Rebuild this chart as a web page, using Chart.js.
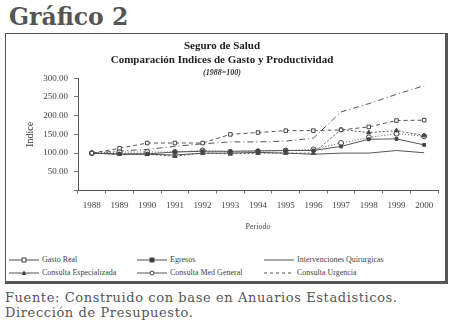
<!DOCTYPE html>
<html>
<head>
<meta charset="utf-8">
<script src="https://cdn.jsdelivr.net/npm/chart.js@4/dist/chart.umd.min.js"></script>
<style>
  body { margin: 0; width: 453px; height: 325px; background: #fff; position: relative; overflow: hidden; }
  #heading { position: absolute; left: 9px; top: 3px; font: bold 23.5px "DejaVu Serif", serif; color: #555; }
  #frame { position: absolute; left: 5px; top: 33px; width: 439px; height: 247px;
           border: 1px solid #555; border-right: 3px solid #555; border-bottom: 3px solid #555; }
  #chart { position: absolute; left: 0; top: 0; }
  #legend { position: absolute; left: 3px; top: 219px; display: grid;
            grid-template-columns: 128px 127px 180px; grid-auto-rows: 13px;
            font: 8px "Liberation Serif", serif; color: #444; }
  #legend div { display: flex; align-items: center; white-space: nowrap; }
  #legend svg { margin-right: 3px; }
  #source { position: absolute; left: 5px; top: 290px; font: 13px "DejaVu Serif", serif; letter-spacing: 0.6px;
            color: #555; line-height: 15px; }
</style>
</head>
<body>
<div id="heading">Gráfico 2</div>
<div id="frame">
  <canvas id="chart" width="439" height="200"></canvas>
  <div id="legend"></div>
</div>
<div id="source">Fuente: Construido con base en Anuarios Estadisticos.<br>Dirección de Presupuesto.</div>

<script>
// data (index 1988 = 100)
var years = ['1988','1989','1990','1991','1992','1993','1994','1995','1996','1997','1998','1999','2000'];

var gastoReal       = [100, 113, 127, 127, 127, 150, 155, 160, 160, 162, 170, 187, 188];
var egresos         = [100, 98, 98, 103, 105, 105, 106, 107, 107, 118, 137, 138, 122];
var intervenciones  = [100, 97, 97, 95, 100, 100, 102, 100, 97, 100, 100, 107, 101];
var consultaEsp     = [100, 97, 97, 92, 100, 98, 100, 100, 100, 163, 155, 160, 147];
var consultaMed     = [100, 103, 103, 103, 107, 103, 105, 107, 110, 127, 142, 152, 145];
var consultaUrg     = [100, 106, 110, 118, 125, 130, 130, 132, 140, 210, 232, 257, 280];

var yTicks = [0, 50, 100, 150, 200, 250, 300];

var series = [
  { label: 'Gasto Real', data: gastoReal, dash: [4, 3], point: 'rect', fill: '#fff', radius: 2.5 },
  { label: 'Egresos', data: egresos, dash: [], point: 'rect', fill: '#444', radius: 2 },
  { label: 'Intervenciones Quirurgicas', data: intervenciones, dash: [], point: false, fill: '#444', radius: 0 },
  { label: 'Consulta Especializada', data: consultaEsp, dash: [2, 2], point: 'triangle', fill: '#444', radius: 2.5 },
  { label: 'Consulta Med General', data: consultaMed, dash: [1, 2], point: 'circle', fill: '#fff', radius: 2.5 },
  { label: 'Consulta Urgencia', data: consultaUrg, dash: [6, 3, 1, 3], point: false, fill: '#444', radius: 0 }
];

var serif = 'Liberation Serif';

var datasets = series.map(function (s) {
  return {
    label: s.label,
    data: s.data,
    borderColor: '#555',
    borderWidth: 1,
    borderDash: s.dash,
    pointStyle: s.point,
    pointRadius: s.radius,
    pointBackgroundColor: s.fill,
    pointBorderColor: '#444',
    pointBorderWidth: 1,
    tension: 0
  };
});

var ctx = document.getElementById('chart').getContext('2d');
var myChart = new Chart(ctx, {
  type: 'line',
  data: { labels: years, datasets: datasets },
  options: {
    responsive: false,
    animation: false,
    layout: { padding: { left: 0, right: 7, top: 0, bottom: 2 } },
    plugins: {
      legend: { display: false },
      tooltip: { enabled: false },
      title: {
        display: true,
        text: ['Seguro de Salud', 'Comparación Indices de Gasto y Productividad'],
        font: { family: serif, size: 11, weight: 'bold', lineHeight: 1.3 },
        color: '#222',
        padding: { top: 5, bottom: 0 }
      },
      subtitle: {
        display: true,
        text: '(1988=100)',
        font: { family: serif, size: 8, style: 'italic', weight: 'bold' },
        color: '#333',
        padding: { top: 1, bottom: 0 }
      }
    },
    scales: {
      x: {
        offset: true,
        border: { color: '#555' },
        grid: { drawOnChartArea: false, tickLength: 3, color: '#777', offset: true },
        ticks: { font: { family: serif, size: 9 }, color: '#444', padding: 7, maxRotation: 0, autoSkip: false },
        title: { display: true, text: 'Periodo', font: { family: serif, size: 8 }, color: '#444', padding: { top: 4, bottom: 0 } }
      },
      y: {
        min: 0,
        max: 300,
        afterBuildTicks: function (scale) { scale.ticks = yTicks.map(function (v) { return { value: v }; }); },
        afterFit: function (scale) { scale.width = 72; },
        border: { color: '#555' },
        grid: { drawOnChartArea: false, tickLength: 4, color: '#777' },
        ticks: {
          font: { family: serif, size: 9 }, color: '#444', padding: 6,
          callback: function (v) { return v === 0 ? '' : v.toFixed(2); }
        },
        title: { display: true, text: 'Indice', font: { family: serif, size: 10 }, color: '#333', padding: { top: 18, bottom: 0 } }
      }
    }
  }
});

// legend in three columns, like the original
var legend = document.getElementById('legend');
series.forEach(function (s) {
  var item = document.createElement('div');
  var svg = '<svg width="30" height="8">';
  svg += '<line x1="0" y1="4" x2="30" y2="4" stroke="#555" stroke-width="1"' +
         (s.label === 'Consulta Urgencia' ? ' stroke-dasharray="3,3"' : '') + '/>';
  if (s.point === 'rect') svg += '<rect x="13" y="2" width="4" height="4" fill="' + s.fill + '" stroke="#444"/>';
  if (s.point === 'circle') svg += '<circle cx="15" cy="4" r="2" fill="' + s.fill + '" stroke="#444"/>';
  if (s.point === 'triangle') svg += '<polygon points="15,1.5 17.5,6 12.5,6" fill="#444"/>';
  svg += '</svg>';
  item.innerHTML = svg + '<span>' + s.label + '</span>';
  legend.appendChild(item);
});
</script>
</body>
</html>
